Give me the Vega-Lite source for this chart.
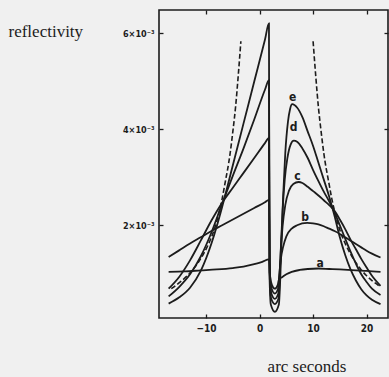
{
  "$schema": "https://vega.github.io/schema/vega-lite/v6.json",
  "width": 229,
  "height": 308,
  "autosize": "none",
  "padding": {"left": 159, "top": 10, "right": 1, "bottom": 59},
  "background": "#f0f0f0",
  "config": {
    "view": {"stroke": "#1c1c1c", "strokeWidth": 1.6},
    "axis": {
      "domain": false,
      "grid": false,
      "tickColor": "#1c1c1c",
      "tickWidth": 1.3,
      "tickSize": -4,
      "labelColor": "#1c1c1c",
      "labelFont": "DejaVu Sans Condensed",
      "labelFontWeight": "bold",
      "titleColor": "#1c1c1c",
      "titleFont": "Liberation Serif",
      "titleFontWeight": "normal",
      "titleFontSize": 17
    }
  },
  "datasets": {
    "curves": [
      {"c": "a", "x": -17, "y": 0.00103}, {"c": "a", "x": -14, "y": 0.00104}, {"c": "a", "x": -11, "y": 0.00106}, {"c": "a", "x": -8, "y": 0.00108}, {"c": "a", "x": -5, "y": 0.00111}, {"c": "a", "x": -3, "y": 0.00114}, {"c": "a", "x": -1, "y": 0.00119}, {"c": "a", "x": 0.5, "y": 0.00124}, {"c": "a", "x": 1.75, "y": 0.00129},
      {"c": "a", "x": 1.95, "y": 0.00095}, {"c": "a", "x": 2.3, "y": 0.00076}, {"c": "a", "x": 2.85, "y": 0.00068}, {"c": "a", "x": 3.4, "y": 0.00076}, {"c": "a", "x": 3.65, "y": 0.00088}, {"c": "a", "x": 4.2, "y": 0.00092}, {"c": "a", "x": 5, "y": 0.00098}, {"c": "a", "x": 6, "y": 0.00103}, {"c": "a", "x": 7.5, "y": 0.00107}, {"c": "a", "x": 9, "y": 0.00109}, {"c": "a", "x": 11, "y": 0.0011}, {"c": "a", "x": 13, "y": 0.00109}, {"c": "a", "x": 15, "y": 0.00108}, {"c": "a", "x": 18, "y": 0.00106}, {"c": "a", "x": 20, "y": 0.00105}, {"c": "a", "x": 22.6, "y": 0.00103},

      {"c": "b", "x": -17, "y": 0.00134}, {"c": "b", "x": -15, "y": 0.00148}, {"c": "b", "x": -13, "y": 0.00162}, {"c": "b", "x": -11, "y": 0.00175}, {"c": "b", "x": -9, "y": 0.00188}, {"c": "b", "x": -7, "y": 0.002}, {"c": "b", "x": -5, "y": 0.00212}, {"c": "b", "x": -3, "y": 0.00224}, {"c": "b", "x": -1, "y": 0.00236}, {"c": "b", "x": 1, "y": 0.00248}, {"c": "b", "x": 1.75, "y": 0.00253},
      {"c": "b", "x": 1.92, "y": 0.001}, {"c": "b", "x": 2.25, "y": 0.00068}, {"c": "b", "x": 2.85, "y": 0.00058}, {"c": "b", "x": 3.45, "y": 0.00068}, {"c": "b", "x": 3.7, "y": 0.001}, {"c": "b", "x": 3.95, "y": 0.00128}, {"c": "b", "x": 4.4, "y": 0.00155}, {"c": "b", "x": 5, "y": 0.00177}, {"c": "b", "x": 6, "y": 0.00193}, {"c": "b", "x": 7, "y": 0.002}, {"c": "b", "x": 8.9, "y": 0.00205}, {"c": "b", "x": 10, "y": 0.00204}, {"c": "b", "x": 11, "y": 0.00202}, {"c": "b", "x": 12, "y": 0.00198}, {"c": "b", "x": 13, "y": 0.00193}, {"c": "b", "x": 14, "y": 0.00188}, {"c": "b", "x": 15, "y": 0.00182}, {"c": "b", "x": 16, "y": 0.00175}, {"c": "b", "x": 17, "y": 0.00168}, {"c": "b", "x": 18, "y": 0.00161}, {"c": "b", "x": 19, "y": 0.00154}, {"c": "b", "x": 20, "y": 0.00147}, {"c": "b", "x": 21, "y": 0.00141}, {"c": "b", "x": 22.6, "y": 0.00133},

      {"c": "c", "x": -17, "y": 0.00068}, {"c": "c", "x": -15, "y": 0.00093}, {"c": "c", "x": -13, "y": 0.00127}, {"c": "c", "x": -11, "y": 0.00168}, {"c": "c", "x": -9, "y": 0.0021}, {"c": "c", "x": -7, "y": 0.00247}, {"c": "c", "x": -5, "y": 0.00278}, {"c": "c", "x": -3, "y": 0.00309}, {"c": "c", "x": -1, "y": 0.0034}, {"c": "c", "x": 1, "y": 0.00371}, {"c": "c", "x": 1.75, "y": 0.00382},
      {"c": "c", "x": 1.9, "y": 0.001}, {"c": "c", "x": 2.2, "y": 0.00058}, {"c": "c", "x": 2.85, "y": 0.00047}, {"c": "c", "x": 3.5, "y": 0.00058}, {"c": "c", "x": 3.75, "y": 0.001}, {"c": "c", "x": 3.95, "y": 0.00145}, {"c": "c", "x": 4.3, "y": 0.00198}, {"c": "c", "x": 4.8, "y": 0.00242}, {"c": "c", "x": 5.5, "y": 0.00272}, {"c": "c", "x": 6.3, "y": 0.00286}, {"c": "c", "x": 7.3, "y": 0.0029}, {"c": "c", "x": 8, "y": 0.00288}, {"c": "c", "x": 9, "y": 0.0028}, {"c": "c", "x": 10, "y": 0.00271}, {"c": "c", "x": 11, "y": 0.00262}, {"c": "c", "x": 12, "y": 0.00252}, {"c": "c", "x": 13, "y": 0.00242}, {"c": "c", "x": 14, "y": 0.0023}, {"c": "c", "x": 15, "y": 0.00212}, {"c": "c", "x": 16, "y": 0.00192}, {"c": "c", "x": 17, "y": 0.0017}, {"c": "c", "x": 18, "y": 0.0015}, {"c": "c", "x": 19, "y": 0.0013}, {"c": "c", "x": 20, "y": 0.00112}, {"c": "c", "x": 21, "y": 0.00095}, {"c": "c", "x": 22.6, "y": 0.00074},

      {"c": "d", "x": -17, "y": 0.00052}, {"c": "d", "x": -15, "y": 0.00072}, {"c": "d", "x": -13, "y": 0.00098}, {"c": "d", "x": -11, "y": 0.00135}, {"c": "d", "x": -9, "y": 0.00185}, {"c": "d", "x": -7, "y": 0.00245}, {"c": "d", "x": -5, "y": 0.00303}, {"c": "d", "x": -3, "y": 0.0036}, {"c": "d", "x": -1, "y": 0.0042}, {"c": "d", "x": 1, "y": 0.00482}, {"c": "d", "x": 1.75, "y": 0.00502},
      {"c": "d", "x": 1.88, "y": 0.001}, {"c": "d", "x": 2.15, "y": 0.00048}, {"c": "d", "x": 2.85, "y": 0.00036}, {"c": "d", "x": 3.55, "y": 0.00048}, {"c": "d", "x": 3.8, "y": 0.001}, {"c": "d", "x": 4.0, "y": 0.0016}, {"c": "d", "x": 4.3, "y": 0.0023}, {"c": "d", "x": 4.7, "y": 0.00295}, {"c": "d", "x": 5.2, "y": 0.0034}, {"c": "d", "x": 5.8, "y": 0.00368}, {"c": "d", "x": 6.4, "y": 0.00376}, {"c": "d", "x": 7, "y": 0.00374}, {"c": "d", "x": 8, "y": 0.0036}, {"c": "d", "x": 9, "y": 0.0034}, {"c": "d", "x": 10, "y": 0.00315}, {"c": "d", "x": 11, "y": 0.00292}, {"c": "d", "x": 12, "y": 0.0027}, {"c": "d", "x": 13, "y": 0.0025}, {"c": "d", "x": 14, "y": 0.00227}, {"c": "d", "x": 15, "y": 0.002}, {"c": "d", "x": 16, "y": 0.00172}, {"c": "d", "x": 17, "y": 0.00145}, {"c": "d", "x": 18, "y": 0.0012}, {"c": "d", "x": 19, "y": 0.00098}, {"c": "d", "x": 20, "y": 0.00082}, {"c": "d", "x": 21, "y": 0.00068}, {"c": "d", "x": 22.6, "y": 0.00055},

      {"c": "e", "x": -17, "y": 0.00037}, {"c": "e", "x": -15, "y": 0.0005}, {"c": "e", "x": -13, "y": 0.0007}, {"c": "e", "x": -11, "y": 0.00105}, {"c": "e", "x": -9, "y": 0.00162}, {"c": "e", "x": -8, "y": 0.00198}, {"c": "e", "x": -7, "y": 0.00238}, {"c": "e", "x": -5, "y": 0.00325}, {"c": "e", "x": -3, "y": 0.00412}, {"c": "e", "x": -1, "y": 0.00499}, {"c": "e", "x": 1, "y": 0.00586}, {"c": "e", "x": 1.75, "y": 0.0062},
      {"c": "e", "x": 1.85, "y": 0.001}, {"c": "e", "x": 2.1, "y": 0.00035}, {"c": "e", "x": 2.85, "y": 0.0002}, {"c": "e", "x": 3.6, "y": 0.00035}, {"c": "e", "x": 3.9, "y": 0.001}, {"c": "e", "x": 4.1, "y": 0.0017}, {"c": "e", "x": 4.4, "y": 0.0026}, {"c": "e", "x": 4.8, "y": 0.0035}, {"c": "e", "x": 5.3, "y": 0.00415}, {"c": "e", "x": 5.7, "y": 0.00442}, {"c": "e", "x": 6.1, "y": 0.00452}, {"c": "e", "x": 7, "y": 0.00445}, {"c": "e", "x": 8, "y": 0.00425}, {"c": "e", "x": 9, "y": 0.00395}, {"c": "e", "x": 10, "y": 0.00365}, {"c": "e", "x": 11, "y": 0.0033}, {"c": "e", "x": 12, "y": 0.00295}, {"c": "e", "x": 13, "y": 0.0026}, {"c": "e", "x": 14, "y": 0.0022}, {"c": "e", "x": 15, "y": 0.00175}, {"c": "e", "x": 16, "y": 0.00138}, {"c": "e", "x": 17, "y": 0.00108}, {"c": "e", "x": 18, "y": 0.00085}, {"c": "e", "x": 19, "y": 0.00067}, {"c": "e", "x": 20, "y": 0.00054}, {"c": "e", "x": 21, "y": 0.00045}, {"c": "e", "x": 22.6, "y": 0.00036}
    ],
    "dashed": [
      {"branch": "left", "x": -16.5, "y": 0.00068}, {"branch": "left", "x": -14.5, "y": 0.00085}, {"branch": "left", "x": -13.5, "y": 0.00095}, {"branch": "left", "x": -12.5, "y": 0.00107}, {"branch": "left", "x": -11.5, "y": 0.00122}, {"branch": "left", "x": -10.5, "y": 0.0014}, {"branch": "left", "x": -9.5, "y": 0.00162}, {"branch": "left", "x": -8.5, "y": 0.0019}, {"branch": "left", "x": -7.5, "y": 0.0023}, {"branch": "left", "x": -7, "y": 0.00255}, {"branch": "left", "x": -6.5, "y": 0.00285}, {"branch": "left", "x": -5.5, "y": 0.0035}, {"branch": "left", "x": -5, "y": 0.00395}, {"branch": "left", "x": -4.5, "y": 0.00445}, {"branch": "left", "x": -4, "y": 0.0051}, {"branch": "left", "x": -3.5, "y": 0.00583},
      {"branch": "right", "x": 10, "y": 0.00583}, {"branch": "right", "x": 10.5, "y": 0.0051}, {"branch": "right", "x": 11, "y": 0.00445}, {"branch": "right", "x": 11.5, "y": 0.00395}, {"branch": "right", "x": 12, "y": 0.0035}, {"branch": "right", "x": 13, "y": 0.00285}, {"branch": "right", "x": 13.5, "y": 0.00255}, {"branch": "right", "x": 14, "y": 0.0023}, {"branch": "right", "x": 15, "y": 0.0019}, {"branch": "right", "x": 16, "y": 0.00162}, {"branch": "right", "x": 17, "y": 0.0014}, {"branch": "right", "x": 18, "y": 0.00122}, {"branch": "right", "x": 19, "y": 0.00107}, {"branch": "right", "x": 20, "y": 0.00095}, {"branch": "right", "x": 21, "y": 0.00085}, {"branch": "right", "x": 22.6, "y": 0.00072}
    ],
    "labels": [
      {"t": "a", "x": 11.3, "y": 0.00122},
      {"t": "b", "x": 8.5, "y": 0.00217},
      {"t": "c", "x": 7.1, "y": 0.00302},
      {"t": "d", "x": 6.35, "y": 0.00405},
      {"t": "e", "x": 6.2, "y": 0.00466}
    ]
  },
  "resolve": {"axis": {"x": "independent", "y": "independent"}},
  "layer": [
    {
      "data": {"name": "curves"},
      "mark": {"type": "line", "interpolate": "monotone", "stroke": "#1c1c1c", "strokeWidth": 1.8},
      "encoding": {
        "x": {"field": "x", "type": "quantitative", "scale": {"domain": [-18.8, 24], "nice": false, "zero": false},
              "axis": {"orient": "bottom", "values": [-10, 0, 10, 20], "labelFontSize": 10, "labelPadding": 9, "title": "arc seconds", "titleX": 147.5, "titleY": 53, "titleAlign": "center", "titleBaseline": "alphabetic"}},
        "y": {"field": "y", "type": "quantitative", "scale": {"domain": [0.00007, 0.00648], "nice": false, "zero": false},
              "axis": {"orient": "left", "values": [0.002, 0.004, 0.006], "labelExpr": "round(datum.value*1000) + '×10⁻³'", "labelFontSize": 9, "labelPadding": 9, "title": "reflectivity", "titleAngle": 0, "titleX": -151, "titleY": 26, "titleAlign": "left", "titleBaseline": "alphabetic"}},
        "detail": {"field": "c"}
      }
    },
    {
      "data": {"name": "dashed"},
      "mark": {"type": "line", "interpolate": "monotone", "stroke": "#1c1c1c", "strokeWidth": 1.6, "strokeDash": [5, 2.5]},
      "encoding": {
        "x": {"field": "x", "type": "quantitative", "axis": {"orient": "top", "values": [-10, 0, 10, 20], "labels": false, "title": null}},
        "y": {"field": "y", "type": "quantitative", "axis": {"orient": "right", "values": [0.002, 0.004, 0.006], "labels": false, "title": null}},
        "detail": {"field": "branch"}
      }
    },
    {
      "data": {"name": "labels"},
      "mark": {"type": "text", "font": "DejaVu Sans Condensed", "fontWeight": "bold", "fontSize": 12, "color": "#1c1c1c", "baseline": "middle", "align": "center"},
      "encoding": {
        "x": {"field": "x", "type": "quantitative", "axis": null},
        "y": {"field": "y", "type": "quantitative", "axis": null},
        "text": {"field": "t"}
      }
    }
  ]
}
